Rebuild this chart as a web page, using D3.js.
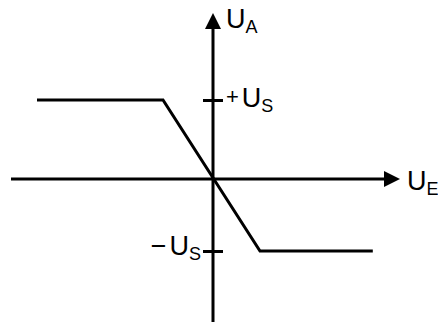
<!DOCTYPE html>
<html>
<head>
<meta charset="utf-8">
<script src="https://cdn.jsdelivr.net/npm/d3@7"></script>
<style>
  body { margin: 0; background: #fff; }
  text { font-family: "Liberation Sans", Arial, sans-serif; fill: #000; }
</style>
</head>
<body>
<div id="chart"></div>
<script>
// transfer curve U_A over U_E (units of U_S)
var ueValues = [-3.52, -1, 1, 3.4];
var uaValues = [1, 1, -1, -1];
var yTicks = [1, -1];
var yTickSigns = ["+", "\u2212"];

var width = 438, height = 322;

var svg = d3.select("#chart")
  .append("svg")
  .attr("width", width)
  .attr("height", height);

// polylinear scales, the drawing is not perfectly symmetric
var xScale = d3.scaleLinear().domain([-1, 0, 1]).range([163, 213, 260]);
var yScale = d3.scaleLinear().domain([-1, 0, 1]).range([251, 179, 100]);

var x0 = xScale(0), y0 = yScale(0);

// horizontal axis with arrow
svg.append("line")
  .attr("x1", 11).attr("x2", 386)
  .attr("y1", y0).attr("y2", y0)
  .attr("stroke", "#000").attr("stroke-width", 3);
svg.append("path")
  .attr("d", "M384," + (y0 - 8) + "L400," + y0 + "L384," + (y0 + 8) + "Z")
  .attr("fill", "#000");

// vertical axis with arrow
svg.append("line")
  .attr("x1", x0).attr("x2", x0)
  .attr("y1", 27).attr("y2", height)
  .attr("stroke", "#000").attr("stroke-width", 3);
svg.append("path")
  .attr("d", "M" + (x0 - 8) + ",29L" + x0 + ",13L" + (x0 + 8) + ",29Z")
  .attr("fill", "#000");

// tick marks on U_A axis
var yAxis = d3.axisLeft(yScale)
  .tickValues(yTicks)
  .tickSize(0)
  .tickFormat("");
var axisG = svg.append("g")
  .attr("transform", "translate(" + x0 + ",0)")
  .call(yAxis);
axisG.select(".domain").remove();
axisG.selectAll(".tick line")
  .attr("x1", -10).attr("x2", 10)
  .attr("stroke", "#000").attr("stroke-width", 3);

// curve
var line = d3.line()
  .x(function (d, i) { return xScale(ueValues[i]); })
  .y(function (d) { return yScale(d); });

svg.append("path")
  .datum(uaValues)
  .attr("fill", "none")
  .attr("stroke", "#000")
  .attr("stroke-width", 3)
  .attr("stroke-linejoin", "miter")
  .attr("d", line);

// labels
function label(x, y, sign, main, sub, anchor) {
  var t = svg.append("text")
    .attr("x", x).attr("y", y)
    .attr("text-anchor", anchor || "start")
    .style("font-size", "27px");
  if (sign) {
    t.append("tspan")
      .style("font-size", sign == "+" ? "22px" : "27px")
      .attr("dy", sign == "+" ? -3 : 0)
      .text(sign);
    t.append("tspan")
      .attr("dx", 3)
      .attr("dy", sign == "+" ? 3 : 0)
      .text(main);
  } else {
    t.append("tspan").text(main);
  }
  t.append("tspan")
    .attr("dy", 5)
    .style("font-size", "18px")
    .text(sub);
  return t;
}

label(226, 28, null, "U", "A");
label(407, 190, null, "U", "E");
label(226, 107, yTickSigns[0], "U", "S");
label(201, 255, yTickSigns[1], "U", "S", "end");
</script>
</body>
</html>
